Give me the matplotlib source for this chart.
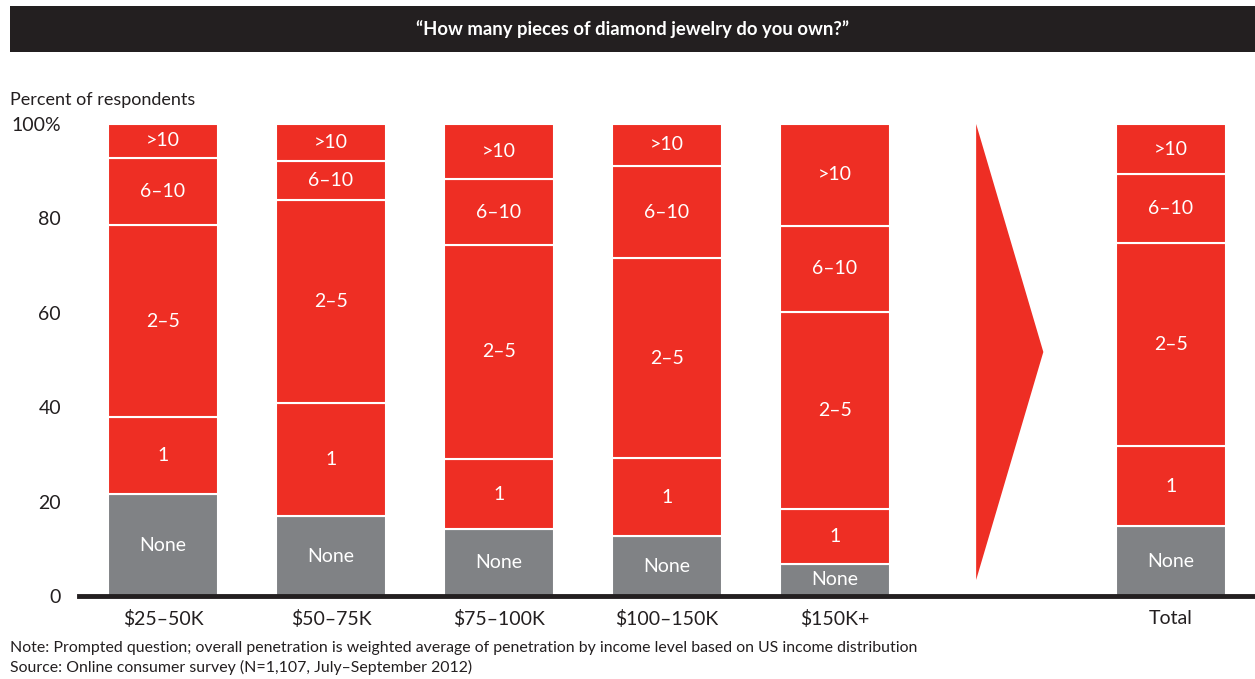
import matplotlib.pyplot as plt
import numpy as np
from matplotlib.patches import Polygon, Rectangle

plt.rcParams['font.family'] = ['Lato', 'DejaVu Sans']

# Data (percent of respondents)
groups = ['$25–50K', '$50–75K', '$75–100K', '$100–150K', '$150K+', 'Total']
segments = ['None', '1', '2–5', '6–10', '>10']
none_vals = [21.6, 16.9, 14.2, 12.7, 6.8, 14.8]
one_vals = [16.3, 24.0, 14.8, 16.5, 11.6, 17.0]
two_five_vals = [40.7, 43.0, 45.4, 42.4, 41.8, 43.0]
six_ten_vals = [14.2, 8.3, 13.9, 19.5, 18.2, 14.6]
over_ten_vals = [7.2, 7.8, 11.7, 8.9, 21.6, 10.6]

red = '#EE2E24'
gray = '#808285'
dark = '#231f20'
seg_colors = [gray, red, red, red, red]

x = np.array([0, 1, 2, 3, 4, 6])
width = 0.655

fig = plt.figure(figsize=(12.55, 6.79), dpi=100)
ax = fig.add_axes([0.063, 0.1222, 0.937, 0.6952])

bottom = np.zeros(len(groups))
for name, vals, col in zip(segments,
                           [none_vals, one_vals, two_five_vals, six_ten_vals, over_ten_vals],
                           seg_colors):
    vals = np.array(vals)
    ax.bar(x, vals, width, bottom=bottom, color=col, edgecolor='white', linewidth=1.5)
    for xi, b, v in zip(x, bottom, vals):
        ax.text(xi, b + v / 2, name, ha='center', va='center', color='white', fontsize=14)
    bottom += vals

# arrow pointing to the total
ax.add_patch(Polygon([[4.84, 100], [5.24, 51.7], [4.84, 3.4]], closed=True,
                     facecolor=red, edgecolor='none'))

ax.set_xlim(-0.5, 6.5)
ax.set_ylim(0, 100)
ax.set_xticks(x)
ax.set_xticklabels(groups, fontsize=14, color=dark)
ax.set_yticks([0, 20, 40, 60, 80, 100])
ax.set_yticklabels(['0', '20', '40', '60', '80', '100%'], fontsize=14, color=dark)
ax.tick_params(length=0)
ax.tick_params(axis='x', pad=10)
ax.tick_params(axis='y', pad=13)
for s in ['top', 'right', 'left']:
    ax.spines[s].set_visible(False)
ax.spines['bottom'].set_linewidth(3.5)
ax.spines['bottom'].set_color(dark)

fig.text(10 / 1255, 1 - 100 / 679, 'Percent of respondents', fontsize=13,
         color=dark, va='center', ha='left')

# title banner
fig.patches.append(Rectangle((10 / 1255, 1 - 52 / 679), 1 - 10 / 1255, 46 / 679,
                             transform=fig.transFigure, facecolor=dark,
                             edgecolor='none'))
fig.text(0.5 + 5 / 1255, 1 - 29 / 679, '“How many pieces of diamond jewelry do you own?”',
         ha='center', va='center', color='white', fontsize=13.3, fontweight='bold')

fig.text(10 / 1255, 1 - 648 / 679,
         'Note: Prompted question; overall penetration is weighted average of penetration by income level based on US income distribution',
         fontsize=11.4, color=dark, va='center')
fig.text(10 / 1255, 1 - 667 / 679,
         'Source: Online consumer survey (N=1,107, July–September 2012)',
         fontsize=11.4, color=dark, va='center')

fig.savefig('out.png', dpi=100)
